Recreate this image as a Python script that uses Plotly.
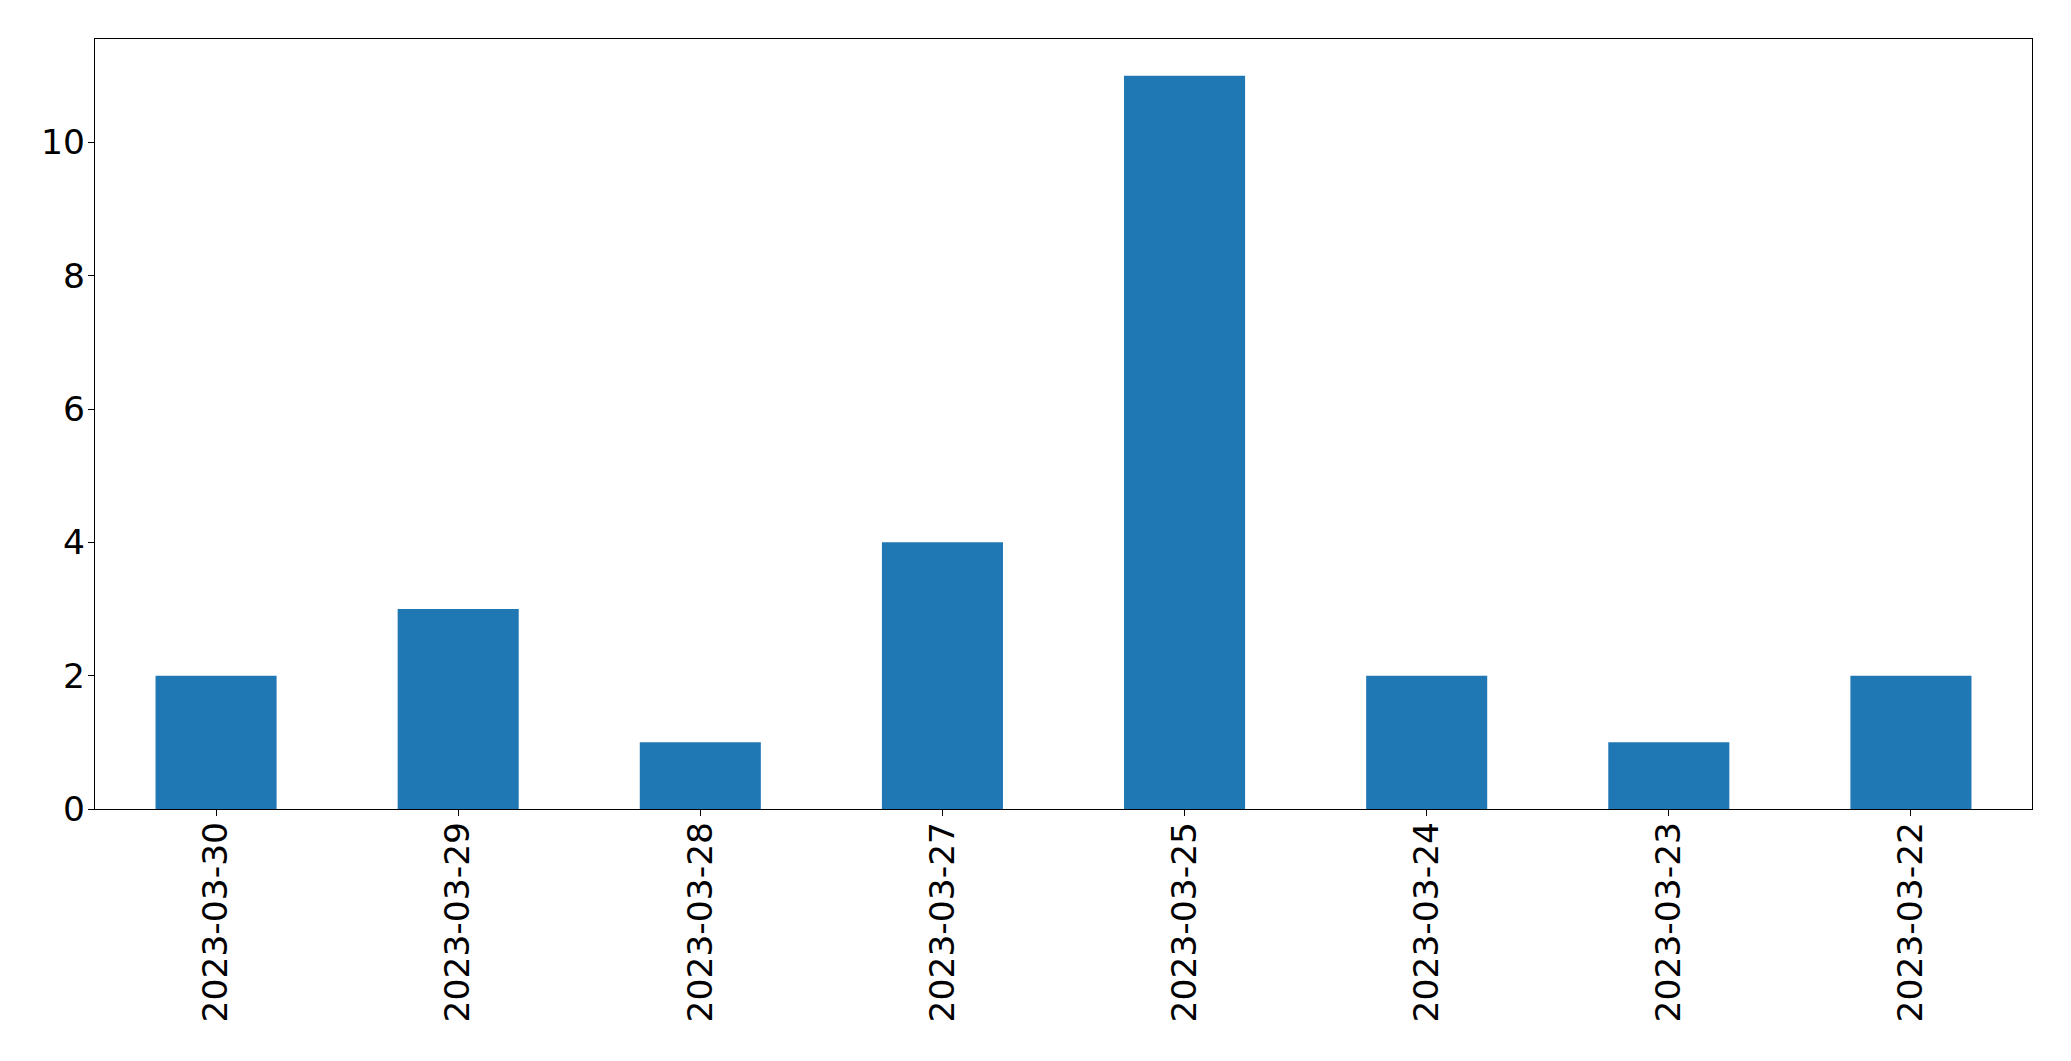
import plotly.graph_objects as go

dates = ["2023-03-30", "2023-03-29", "2023-03-28", "2023-03-27",
         "2023-03-25", "2023-03-24", "2023-03-23", "2023-03-22"]
counts = [2, 3, 1, 4, 11, 2, 1, 2]
y_ticks = [0, 2, 4, 6, 8, 10]

fig = go.Figure(go.Bar(x=dates, y=counts, width=0.5, marker_color="#1f77b4",
                       marker_line_width=0))

fig.update_layout(
    width=2071, height=1061,
    margin=dict(l=86.5, r=47.3, t=31, b=260, pad=0, autoexpand=False),
    paper_bgcolor="white", plot_bgcolor="white",
    font=dict(family="DejaVu Sans", size=34.5, color="black"),
    showlegend=False,
)
fig.update_xaxes(type="category", range=[-0.5, 7.5], tickangle=-90,
                 showline=True, linecolor="black", linewidth=1.3, mirror=True,
                 ticks="outside", ticklen=6, tickwidth=1.3, tickcolor="black",
                 ticklabelstandoff=-8,
                 showgrid=False, zeroline=False)
fig.update_yaxes(range=[0, 11.55], tickvals=y_ticks,
                 showline=True, linecolor="black", linewidth=1.3, mirror=True,
                 ticks="outside", ticklen=6, tickwidth=1.3, tickcolor="black",
                 ticklabelstandoff=-4,
                 showgrid=False, zeroline=False)

fig.write_html("out.html")
